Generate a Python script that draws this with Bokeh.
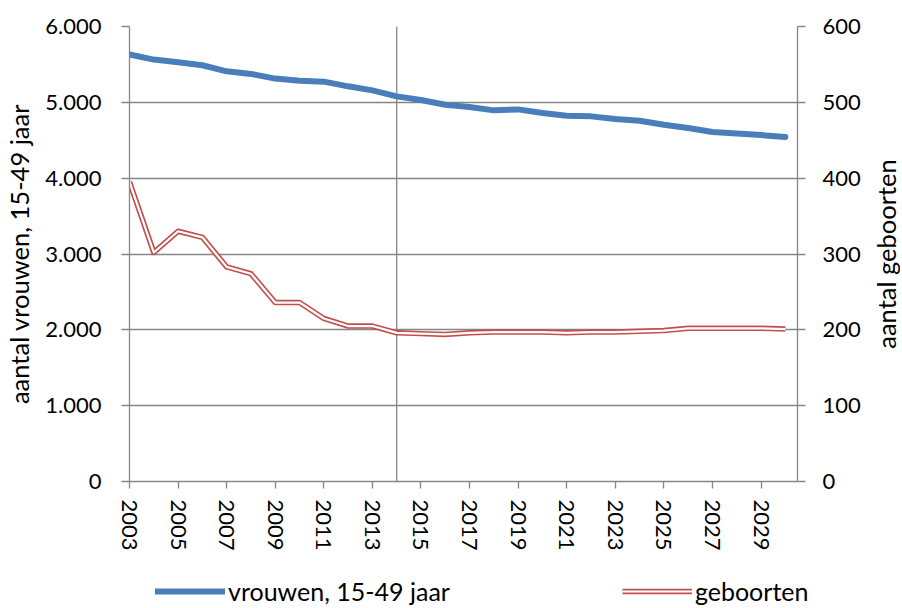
import math
from bokeh.plotting import figure
from bokeh.layouts import column, row
from bokeh.models import (Range1d, LinearAxis, Span, Legend, LegendItem,
                          FixedTicker, CustomJSTickFormatter, ColumnDataSource)
from bokeh.core.properties import value
from bokeh.embed import file_html
from bokeh.resources import INLINE

years = list(range(2003, 2031))
vrouwen = [5630, 5564, 5528, 5489, 5409, 5375, 5313, 5286, 5273, 5211, 5158, 5079,
           5030, 4969, 4938, 4894, 4907, 4859, 4823, 4815, 4780, 4757, 4705, 4661,
           4608, 4590, 4568, 4542]
geboorten = [395, 302, 330, 322, 283, 274, 236, 236, 215, 205, 205, 196,
             195, 194, 196, 197, 197, 197, 196, 197, 197, 198, 199, 202,
             202, 202, 202, 201]
left_ticks = [0, 1000, 2000, 3000, 4000, 5000, 6000]
right_ticks = [0, 100, 200, 300, 400, 500, 600]
year_ticks = years[::2]
split_year = 2014
left_title = "aantal vrouwen, 15-49 jaar"
right_title = "aantal geboorten"

FONT = "Lato"
GRAY = "#868686"
BLUE = "#4A7EBB"
RED = "#C0504D"
W_MAIN = 870
W_TITLE = 30
H_MAIN = 570

src = ColumnDataSource(dict(year=years, vrouwen=vrouwen, geboorten=geboorten))

p = figure(width=W_MAIN, height=H_MAIN, x_range=Range1d(2003, 2030.5),
           y_range=Range1d(0, 6000), output_backend="svg", toolbar_location=None,
           min_border_left=129, min_border_right=73, min_border_top=26,
           min_border_bottom=89)
p.outline_line_color = None
p.background_fill_color = "white"
p.extra_y_ranges = {"births": Range1d(0, 600)}

p.xgrid.visible = False
p.ygrid.ticker = FixedTicker(ticks=left_ticks)
p.ygrid.grid_line_color = GRAY
p.ygrid.grid_line_width = 1.3

fmt = CustomJSTickFormatter(code="return tick.toFixed(0).replace(/\\B(?=(\\d{3})+(?!\\d))/g, '.');")

def style_axis(ax):
    ax.axis_line_color = GRAY
    ax.axis_line_width = 1.3
    ax.major_tick_line_color = GRAY
    ax.major_tick_line_width = 1.3
    ax.major_tick_out = 8
    ax.major_tick_in = 0
    ax.minor_tick_line_color = None
    ax.major_label_text_font = FONT
    ax.major_label_text_font_size = "22px"
    ax.major_label_text_color = "black"
    ax.axis_label_text_font = FONT
    ax.axis_label_text_font_size = "25.5px"
    ax.axis_label_text_font_style = "normal"
    ax.axis_label_text_color = "black"

xa = p.xaxis[0]
style_axis(xa)
xa.ticker = FixedTicker(ticks=year_ticks)
xa.major_label_orientation = "vertical"
xa.major_label_standoff = 11
xa.major_tick_out = 7

ya = p.yaxis[0]
style_axis(ya)
ya.ticker = FixedTicker(ticks=left_ticks)
ya.formatter = fmt
ya.major_label_standoff = 20
ya.axis_label = left_title
ya.axis_label_standoff = 8

ra = LinearAxis(y_range_name="births")
style_axis(ra)
ra.ticker = FixedTicker(ticks=right_ticks)
ra.major_label_standoff = 17
p.add_layout(ra, "right")

vline = Span(location=split_year, dimension="height", line_color=GRAY,
             line_width=1.3, level="underlay")
p.add_layout(vline)

line_styles = dict(
    blue=dict(line_color=BLUE, line_width=6, line_join="round", line_cap="round"),
    red_outer=dict(line_color=RED, line_width=5.5, line_join="round"),
    red_inner=dict(line_color="white", line_width=2.2, line_join="round"),
)

p.line("year", "vrouwen", source=src, **line_styles["blue"])
p.line("year", "geboorten", source=src, y_range_name="births", **line_styles["red_outer"])
p.line("year", "geboorten", source=src, y_range_name="births", **line_styles["red_inner"])

# right-axis title strip (text reads bottom-to-top, centred on the axis)
tf = figure(width=W_TITLE, height=H_MAIN, x_range=Range1d(0, 1),
            y_range=Range1d(right_ticks[0], right_ticks[-1]),
            output_backend="svg", toolbar_location=None,
            x_axis_type=None, y_axis_type=None,
            min_border_left=0, min_border_right=0, min_border_top=26,
            min_border_bottom=89)
tf.outline_line_color = None
tf.grid.visible = False
tf.text(x=[0.5], y=[(right_ticks[0] + right_ticks[-1]) / 2], text=[right_title],
        angle=math.pi / 2, text_align="center", text_baseline="middle",
        text_font=value(FONT), text_font_size="25.5px", text_color="black")

# legend strip below the chart (its lines lie outside its own view; only the legend shows)
lg = figure(width=W_MAIN + W_TITLE, height=36, x_range=Range1d(0, 1), y_range=Range1d(0, 1),
            output_backend="svg", toolbar_location=None,
            x_axis_type=None, y_axis_type=None,
            min_border_left=0, min_border_right=0, min_border_top=0, min_border_bottom=0)
lg.outline_line_color = None
lg.grid.visible = False
lb = lg.line("year", "vrouwen", source=src, **line_styles["blue"])
lro = lg.line("year", "geboorten", source=src, **line_styles["red_outer"])
lri = lg.line("year", "geboorten", source=src, **line_styles["red_inner"])

legend = Legend(items=[LegendItem(label="vrouwen, 15-49 jaar", renderers=[lb]),
                       LegendItem(label="geboorten", renderers=[lro, lri])],
                orientation="horizontal", location=(155, 0), spacing=172,
                glyph_width=70, label_standoff=3, padding=0, margin=0,
                border_line_color=None, background_fill_alpha=0,
                label_text_font=FONT, label_text_font_size="25px",
                label_text_color="black")
lg.add_layout(legend)

layout = column(row(p, tf, spacing=0), row(lg), spacing=0)
open("out.html", "w").write(file_html(layout, INLINE))
